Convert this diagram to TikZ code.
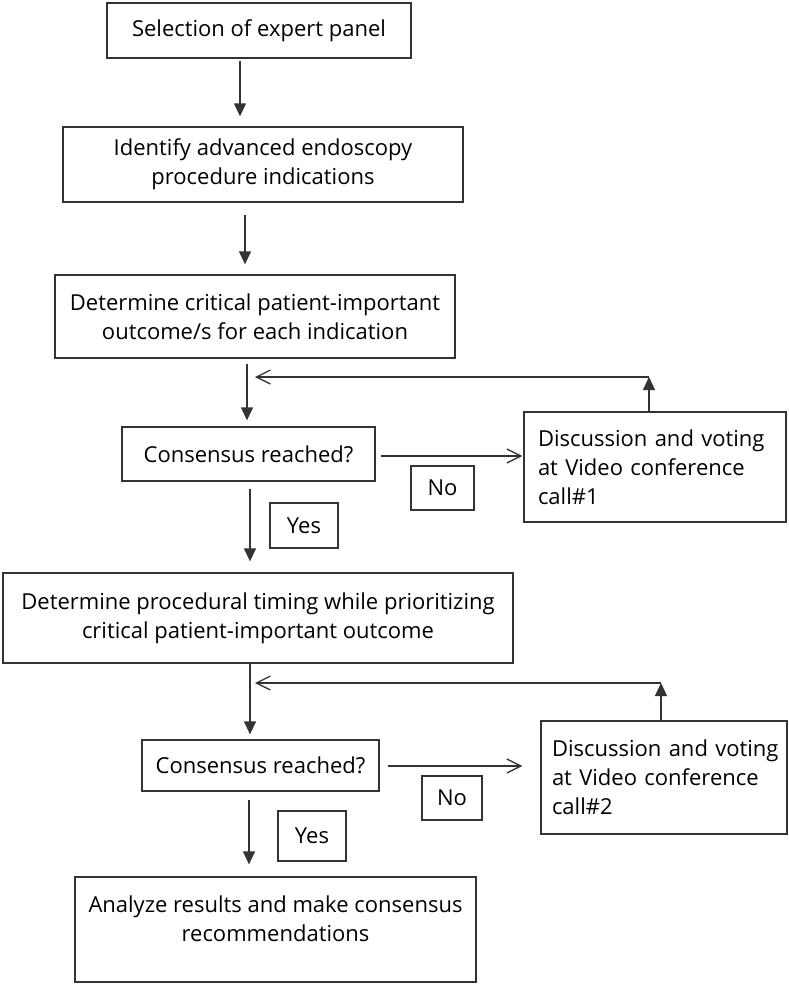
\documentclass[tikz,border=0pt]{standalone}
\usepackage{fontspec}
\setmainfont{Open Sans}
\usetikzlibrary{arrows.meta}
\definecolor{ink}{HTML}{333333}
\tikzset{
  box/.style={draw=ink, line width=1.3pt, rectangle, inner sep=0pt, align=center,
    font=\fontsize{22}{29}\selectfont, text=black},
  tag/.style={box},
  disc/.style={box, align=left, execute at begin node={\hyphenpenalty=10000\hbadness=10000\hfuzz=50pt}},
  filledarr/.style={draw=ink, line width=1.3pt, -{Triangle[length=13pt,width=12pt]}},
  openarr/.style={draw=ink, line width=1.3pt, -{Straight Barb[length=14pt,width=14pt,line width=1.3pt]}},
}
\begin{document}
\begin{tikzpicture}[x=1pt,y=-1pt]
\useasboundingbox (0,0) rectangle (788,988);
% boxes
\node[box, minimum width=304pt, minimum height=55pt] (b1) at (259,30.5) {Selection of expert panel};
\node[box, minimum width=400pt, minimum height=75pt] (b2) at (263,164.5) {Identify advanced endoscopy\\procedure indications};
\node[box, minimum width=400pt, minimum height=83pt] (b3) at (255,316.5) {Determine critical patient-important\\outcome/s for each indication};
\node[box, minimum width=253pt, minimum height=54pt] (c1) at (248.5,454) {Consensus reached?};
\node[disc, minimum width=262pt, minimum height=110pt, text width=234pt] (d1) at (655,467) {\mbox{Discussion and voting}\\\mbox{at Video conference}\\call\#1};
\node[tag, minimum width=63pt, minimum height=44pt] (no1) at (442.5,488) {No};
\node[tag, minimum width=68pt, minimum height=45pt] (yes1) at (304,525.5) {Yes};
\node[box, minimum width=510pt, minimum height=90pt] (b5) at (258,618) {Determine procedural timing while prioritizing\\critical patient-important outcome};
\node[box, minimum width=237pt, minimum height=51pt] (c2) at (260.5,765.5) {Consensus reached?};
\node[disc, minimum width=246pt, minimum height=113pt, text width=224pt] (d2) at (664,777.5) {\mbox{Discussion and voting}\\\mbox{at Video conference}\\call\#2};
\node[tag, minimum width=60pt, minimum height=44pt] (no2) at (452,798) {No};
\node[tag, minimum width=68pt, minimum height=50pt] (yes2) at (312,836) {Yes};
\node[box, minimum width=401pt, minimum height=105pt] (b7) at (275.5,929.5) {};
\node[font=\fontsize{22}{29}\selectfont, text=black, align=center, inner sep=0pt] (b7t) at (275.5,919) {Analyze results and make consensus\\recommendations};
% guide coordinates
\coordinate (ax1) at (240,0);
\coordinate (ax2) at (245,0);
\coordinate (ax3) at (247,0);
\coordinate (ax4) at (250,0);
\coordinate (ax5) at (250,0);
\coordinate (ax6) at (249,0);
\coordinate (ay1) at (0,456);
\coordinate (ay2) at (0,766);
\coordinate (f1c) at (649,377);
\coordinate (f1e) at (255,377);
\coordinate (f2c) at (661,683);
\coordinate (f2e) at (255,683);
% main flow
\draw[filledarr, shorten <=2pt, shorten >=10pt] (b1.south -| ax1) -- (b2.north -| ax1);
\draw[filledarr, shorten <=12pt, shorten >=10pt] (b2.south -| ax2) -- (b3.north -| ax2);
\draw[filledarr, shorten <=5pt, shorten >=6pt] (b3.south -| ax3) -- (c1.north -| ax3);
\draw[filledarr, shorten <=7pt, shorten >=11pt] (c1.south -| ax4) -- (b5.north -| ax4);
\draw[filledarr, shorten >=5pt] (b5.south -| ax5) -- (c2.north -| ax5);
\draw[filledarr, shorten <=8pt, shorten >=12pt] (c2.south -| ax6) -- (b7.north -| ax6);
% No branches
\draw[openarr, shorten <=5pt, shorten >=1pt] (c1.east |- ay1) -- (d1.west |- ay1);
\draw[openarr, shorten <=8pt, shorten >=18pt] (c2.east |- ay2) -- (d2.west |- ay2);
% feedback loops
\draw[filledarr] (d1.north -| f1c) -- (f1c);
\draw[openarr] (f1c) -- (f1e);
\draw[filledarr] (d2.north -| f2c) -- (f2c);
\draw[openarr] (f2c) -- (f2e);
\end{tikzpicture}
\end{document}
